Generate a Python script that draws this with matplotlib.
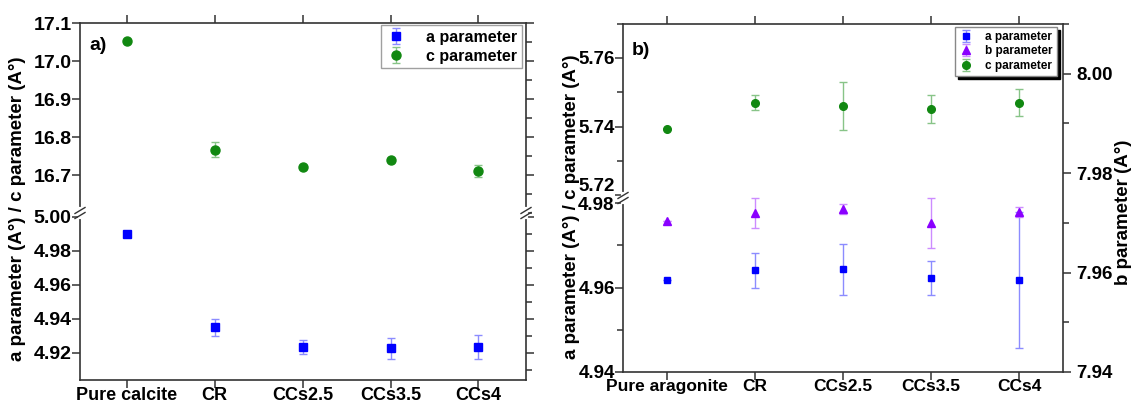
import matplotlib
matplotlib.use("Agg")
import matplotlib.pyplot as plt
from matplotlib.lines import Line2D
from matplotlib.ticker import FixedLocator, MultipleLocator, FormatStrFormatter

plt.rcParams["font.family"] = ["Liberation Sans", "DejaVu Sans"]
plt.rcParams["font.weight"] = "bold"

W, H = 1132, 409

# panel a: calcite
calcite_samples = ["Pure calcite", "CR", "CCs2.5", "CCs3.5", "CCs4"]
calcite_a = [4.990, 4.935, 4.9235, 4.9226, 4.9235]
calcite_a_err = [0.0, 0.005, 0.004, 0.006, 0.007]
calcite_c = [17.052, 16.767, 16.722, 16.740, 16.711]
calcite_c_err = [0.0, 0.02, 0.0, 0.004, 0.016]

# panel b: aragonite
arag_samples = ["Pure aragonite", "CR", "CCs2.5", "CCs3.5", "CCs4"]
arag_a = [4.9618, 4.9641, 4.9643, 4.9622, 4.9618]
arag_a_err = [0.0, 0.0041, 0.006, 0.004, 0.016]
arag_b = [7.9704, 7.9720, 7.9728, 7.9700, 7.9721]
arag_b_err = [0.0, 0.003, 0.001, 0.005, 0.001]
arag_c = [5.7394, 5.7470, 5.7461, 5.7451, 5.7470]
arag_c_err = [0.0, 0.0023, 0.007, 0.004, 0.004]

BLUE, BLUE_E = "#0000ff", "#8c8cff"
GREEN, GREEN_E = "#118811", "#88c488"
VIOLET, VIOLET_E = "#8a00ff", "#cc8cff"
SPINE = "#333333"

fig = plt.figure(figsize=(W / 100, H / 100), dpi=100)


def px_rect(x0, y0, x1, y1):
    return [x0 / W, 1 - y1 / H, (x1 - x0) / W, (y1 - y0) / H]


def style(ax, top=False, bottom=False, right=True, left_minor=False, ysize=14):
    for s in ax.spines.values():
        s.set_color(SPINE)
        s.set_linewidth(1.2)
    ax.spines["top"].set_visible(top)
    ax.spines["bottom"].set_visible(bottom)
    ax.spines["right"].set_visible(right)
    ax.tick_params(axis="y", which="both", direction="out", left=True, right=right,
                   labelright=False, colors=SPINE, labelcolor="black", width=1.1,
                   pad=0.5, labelsize=ysize)
    ax.tick_params(axis="y", which="major", length=5.5)
    ax.tick_params(axis="y", which="minor", length=4, left=left_minor, right=right)
    ax.tick_params(axis="x", which="major", direction="out", length=6, width=1.1,
                   colors=SPINE, labelcolor="black", pad=-1,
                   top=top, bottom=bottom, labelbottom=bottom, labeltop=False)
    ax.set_facecolor("none")


def break_mark(x, y):
    fig.add_artist(Line2D([x / W, x / W], [1 - (y - 4) / H, 1 - (y + 4) / H],
                          color="white", lw=3, transform=fig.transFigure, zorder=20))
    for dy in (-2.5, 2.5):
        xs = [(x - 5) / W, (x + 5) / W]
        ys = [1 - (y + dy + 3) / H, 1 - (y + dy - 3) / H]
        fig.add_artist(Line2D(xs, ys, color=SPINE, lw=1.0, transform=fig.transFigure, zorder=21))


xpos = list(range(len(calcite_samples)))

# ---------------- panel a ----------------
ax_ac = fig.add_axes(px_rect(80, 23, 526, 213))
ax_aa = fig.add_axes(px_rect(80, 213, 526, 380))

ax_ac.errorbar(xpos, calcite_c, yerr=calcite_c_err, fmt="o", color=GREEN, ms=6.5,
               ecolor=GREEN_E, elinewidth=1.0, capsize=3, capthick=1.0, label="c parameter")
ax_aa.errorbar(xpos, calcite_a, yerr=calcite_a_err, fmt="s", color=BLUE, ms=5.5,
               ecolor=BLUE_E, elinewidth=1.0, capsize=3, capthick=1.0, label="a parameter")

for ax in (ax_ac, ax_aa):
    ax.set_xlim(-0.53, 4.54)
    ax.set_xticks(xpos)
ax_aa.set_xticklabels(calcite_samples, fontsize=13)

ax_ac.set_ylim(16.6, 17.1)
ax_ac.yaxis.set_major_locator(FixedLocator([16.7, 16.8, 16.9, 17.0, 17.1]))
ax_ac.yaxis.set_minor_locator(MultipleLocator(0.05))
ax_ac.yaxis.set_major_formatter(FormatStrFormatter("%.1f"))
ax_aa.set_ylim(4.904, 5.0022)
ax_aa.yaxis.set_major_locator(FixedLocator([4.92, 4.94, 4.96, 4.98, 5.00]))
ax_aa.yaxis.set_minor_locator(MultipleLocator(0.01))
ax_aa.yaxis.set_major_formatter(FormatStrFormatter("%.2f"))

style(ax_ac, top=True, bottom=False)
style(ax_aa, top=False, bottom=True)

ax_ac.text(0.022, 0.86, "a)", transform=ax_ac.transAxes, fontsize=14, fontweight="bold")

h_c, l_c = ax_ac.get_legend_handles_labels()
h_a, l_a = ax_aa.get_legend_handles_labels()
leg = ax_ac.legend(h_a + h_c, l_a + l_c, loc="upper right", bbox_to_anchor=(0.991, 0.99),
                   fontsize=11.5, frameon=True, fancybox=False, edgecolor="#888888",
                   borderpad=0.3, labelspacing=0.25, handletextpad=1.3, handlelength=1.2,
                   borderaxespad=0.0)
leg.get_frame().set_linewidth(1.0)

break_mark(80, 213)
break_mark(526, 213)

fig.text(18 / W, 1 - 209 / H, "a parameter (A°) / c parameter (A°)", rotation=90,
         ha="center", va="center", fontsize=13.5, fontweight="bold")

# ---------------- panel b ----------------
ax_bc = fig.add_axes(px_rect(623, 23.5, 1063, 198))
ax_ba = fig.add_axes(px_rect(623, 198, 1063, 372))
ax_bb = fig.add_axes(px_rect(623, 23.5, 1063, 372))

ax_bc.errorbar(xpos, arag_c, yerr=arag_c_err, fmt="o", color=GREEN, ms=5.5,
               ecolor=GREEN_E, elinewidth=1.0, capsize=3, capthick=1.0, label="c parameter")
ax_ba.errorbar(xpos, arag_a, yerr=arag_a_err, fmt="s", color=BLUE, ms=4.2,
               ecolor=BLUE_E, elinewidth=1.0, capsize=3, capthick=1.0, label="a parameter")
ax_bb.errorbar(xpos, arag_b, yerr=arag_b_err, fmt="^", color=VIOLET, ms=5.5,
               ecolor=VIOLET_E, elinewidth=1.0, capsize=3, capthick=1.0, label="b parameter")

for ax in (ax_bc, ax_ba, ax_bb):
    ax.set_xlim(-0.5, 4.5)
    ax.set_xticks(xpos)
ax_ba.set_xticklabels(arag_samples, fontsize=12.5)

ax_bc.set_ylim(5.7192, 5.7700)
ax_bc.yaxis.set_major_locator(FixedLocator([5.72, 5.74, 5.76]))
ax_bc.yaxis.set_minor_locator(MultipleLocator(0.01))
ax_bc.yaxis.set_major_formatter(FormatStrFormatter("%.2f"))
ax_ba.set_ylim(4.94, 4.9812)
ax_ba.yaxis.set_major_locator(FixedLocator([4.94, 4.96, 4.98]))
ax_ba.yaxis.set_minor_locator(MultipleLocator(0.01))
ax_ba.yaxis.set_major_formatter(FormatStrFormatter("%.2f"))

style(ax_bc, top=True, bottom=False, right=False, left_minor=True, ysize=13.5)
style(ax_ba, top=False, bottom=True, right=False, left_minor=True, ysize=13.5)

# 5.72 and 4.98 sit on either side of the break
for lab in ax_bc.get_yticklabels():
    if lab.get_text() == "5.72":
        lab.set_va("bottom")

ax_bb.set_ylim(7.94, 8.0101)
ax_bb.yaxis.set_major_locator(FixedLocator([7.94, 7.96, 7.98, 8.00]))
ax_bb.yaxis.set_minor_locator(MultipleLocator(0.01))
ax_bb.yaxis.set_major_formatter(FormatStrFormatter("%.2f"))
ax_bb.yaxis.tick_right()
for name in ("left", "top", "bottom"):
    ax_bb.spines[name].set_visible(False)
ax_bb.spines["right"].set_color(SPINE)
ax_bb.spines["right"].set_linewidth(1.2)
ax_bb.tick_params(axis="x", which="both", bottom=False, top=False, labelbottom=False)
ax_bb.tick_params(axis="y", which="both", direction="out", left=False, right=True,
                  labelleft=False, labelright=True, colors=SPINE, labelcolor="black",
                  width=1.1, labelsize=13.5, pad=4)
ax_bb.tick_params(axis="y", which="major", length=5.5)
ax_bb.tick_params(axis="y", which="minor", length=4)
ax_bb.set_facecolor("none")

ax_bc.text(0.02, 0.82, "b)", transform=ax_bc.transAxes, fontsize=14, fontweight="bold")

h_bc, l_bc = ax_bc.get_legend_handles_labels()
h_ba, l_ba = ax_ba.get_legend_handles_labels()
h_bb, l_bb = ax_bb.get_legend_handles_labels()
leg_b = ax_bb.legend(h_ba + h_bb + h_bc, l_ba + l_bb + l_bc, loc="upper right",
                     bbox_to_anchor=(0.986, 0.99), fontsize=8.5, frameon=True, fancybox=False,
                     edgecolor="#888888", borderpad=0.35, labelspacing=0.2, handletextpad=1.0,
                     handlelength=1.2, borderaxespad=0.0,
                     shadow={"color": "black", "alpha": 1.0})
leg_b.get_frame().set_linewidth(1.0)
leg_b.set_zorder(30)

break_mark(623, 198)

fig.text(572 / W, 1 - 207 / H, "a parameter (A°) / c parameter (A°)", rotation=90,
         ha="center", va="center", fontsize=13.5, fontweight="bold")
fig.text(1123 / W, 1 - 212 / H, "b parameter (A°)", rotation=90,
         ha="center", va="center", fontsize=13.5, fontweight="bold")

fig.savefig("out.png", dpi=100, facecolor="white")
